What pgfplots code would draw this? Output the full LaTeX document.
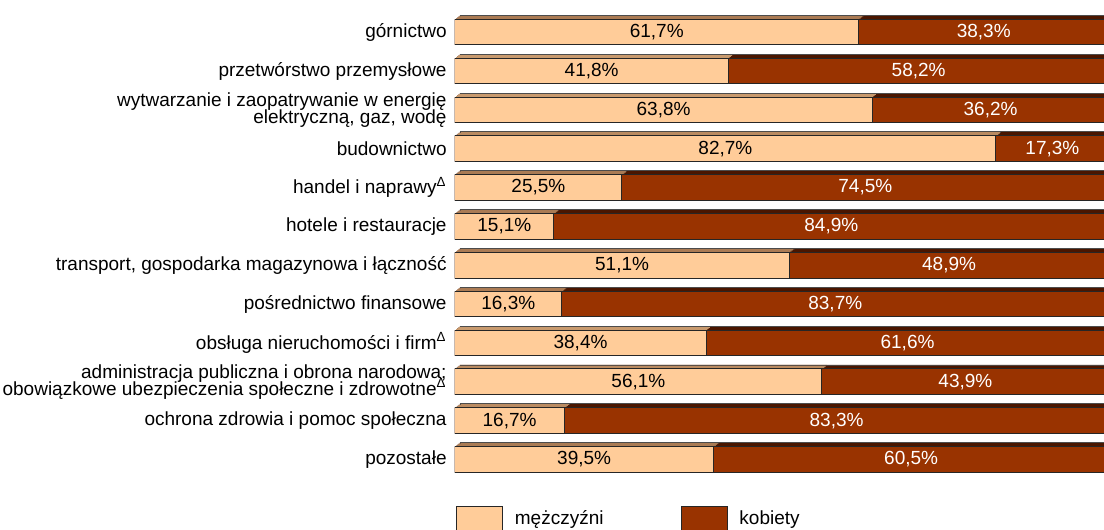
\documentclass[border=0pt]{standalone}
\usepackage{pgfplots}
\pgfplotsset{compat=1.18}
\usepackage{pgfplotstable}
\usepackage{fontspec}
\setmainfont{Liberation Sans}
\definecolor{men}{HTML}{FFCC99}
\definecolor{women}{HTML}{993300}
\definecolor{mentop}{HTML}{C89A6E}
\definecolor{womentop}{HTML}{4A1600}

\pgfplotstableread{
y m w
0 61.7 38.3
1 41.8 58.2
2 63.8 36.2
3 82.7 17.3
4 25.5 74.5
5 15.1 84.9
6 51.1 48.9
7 16.3 83.7
8 38.4 61.6
9 56.1 43.9
10 16.7 83.3
11 39.5 60.5
}\data

\begin{document}
\begin{tikzpicture}[font=\fontsize{9.5}{8.3}\selectfont]
\path[use as bounding box, clip] (0,0) rectangle (552pt,265pt);
\begin{axis}[
 at={(227.5pt,25.55pt)}, anchor=south west,
 scale only axis, width=324.5pt, height=233.1pt,
 xmin=0, xmax=99.24, ymin=-0.5, ymax=11.5, y dir=reverse,
 mybar/.style={xbar, bar width=12.8pt, bar shift=0pt, forget plot},
 axis line style={draw=none}, major tick length=0pt,
 xtick=\empty, ytick={0,...,11},
 yticklabels={górnictwo, przetwórstwo przemysłowe,
   {wytwarzanie i zaopatrywanie w energię\\elektryczną, gaz, wodę},
   budownictwo, handel i naprawy\textsuperscript{Δ}, hotele i restauracje,
   {transport, gospodarka magazynowa i łączność}, pośrednictwo finansowe,
   obsługa nieruchomości i firm\textsuperscript{Δ},
   {administracja publiczna i obrona narodowa;\\obowiązkowe ubezpieczenia społeczne i zdrowotne\textsuperscript{Δ}},
   ochrona zdrowia i pomoc społeczna, pozostałe},
 yticklabel style={align=right, inner sep=0pt, xshift=-4pt,
   font={\fontsize{9.5}{8.35}\selectfont\lineskiplimit=-20pt\relax}},
 /pgf/number format/assume math mode=true,
 legend columns=2,
 legend cell align=left,
 legend style={at={(0,0)}, anchor=north west, yshift=-13.5pt, xshift=0.5pt,
   draw=none, fill=none, inner sep=0pt, outer sep=0pt,
   nodes={inner sep=0pt},
   font=\fontsize{9.5}{8.3}\selectfont,
   /tikz/every even column/.append style={column sep=38.5pt}},
 legend image code/.code={\draw[#1, line width=0.5pt] (0pt,-6.5pt) rectangle (23pt,6.5pt); \path (29pt,0pt);},
]
% 3D top faces (back copies)
\addplot[mybar, fill=womentop, draw=black!70, line width=0.4pt, xshift=2.5pt, yshift=2pt] table[x expr=\thisrow{m}+\thisrow{w}, y=y]{\data};
\addplot[mybar, fill=mentop, draw=black!70, line width=0.4pt, xshift=2.5pt, yshift=2pt] table[x=m, y=y]{\data};
\addplot[mybar, fill=womentop, draw=none, xshift=1.875pt, yshift=1.5pt] table[x expr=\thisrow{m}+\thisrow{w}, y=y]{\data};
\addplot[mybar, fill=mentop, draw=none, xshift=1.875pt, yshift=1.5pt] table[x=m, y=y]{\data};
\addplot[mybar, fill=womentop, draw=none, xshift=1.25pt, yshift=1pt] table[x expr=\thisrow{m}+\thisrow{w}, y=y]{\data};
\addplot[mybar, fill=mentop, draw=none, xshift=1.25pt, yshift=1pt] table[x=m, y=y]{\data};
\addplot[mybar, fill=womentop, draw=none, xshift=0.625pt, yshift=0.5pt] table[x expr=\thisrow{m}+\thisrow{w}, y=y]{\data};
\addplot[mybar, fill=mentop, draw=none, xshift=0.625pt, yshift=0.5pt] table[x=m, y=y]{\data};
% front faces
\addplot[mybar, fill=women, draw=black!85, line width=0.5pt] table[x expr=\thisrow{m}+\thisrow{w}, y=y]{\data};
\addplot[mybar, fill=men, draw=black!85, line width=0.5pt] table[x=m, y=y]{\data};
% labels
\addplot[draw=none, forget plot, point meta=explicit,
  nodes near coords={\pgfmathprintnumber[fixed,fixed zerofill,precision=1,use comma,assume math mode=true]{\pgfplotspointmeta}\%},
  every node near coord/.append style={anchor=center, text=black, inner sep=0pt, font=\fontsize{9.5}{8.3}\selectfont}]
  table[x expr=\thisrow{m}/2, y=y, meta=m]{\data};
\addplot[draw=none, forget plot, point meta=explicit,
  nodes near coords={\pgfmathprintnumber[fixed,fixed zerofill,precision=1,use comma,assume math mode=true]{\pgfplotspointmeta}\%},
  every node near coord/.append style={anchor=center, text=white, inner sep=0pt, font=\fontsize{9.5}{8.3}\selectfont}]
  table[x expr=\thisrow{m}+\thisrow{w}/2, y=y, meta=w]{\data};
\addlegendimage{fill=men, draw=black!85}
\addlegendentry{mężczyźni}
\addlegendimage{fill=women, draw=black!85}
\addlegendentry{kobiety}
\end{axis}
\end{tikzpicture}
\end{document}
